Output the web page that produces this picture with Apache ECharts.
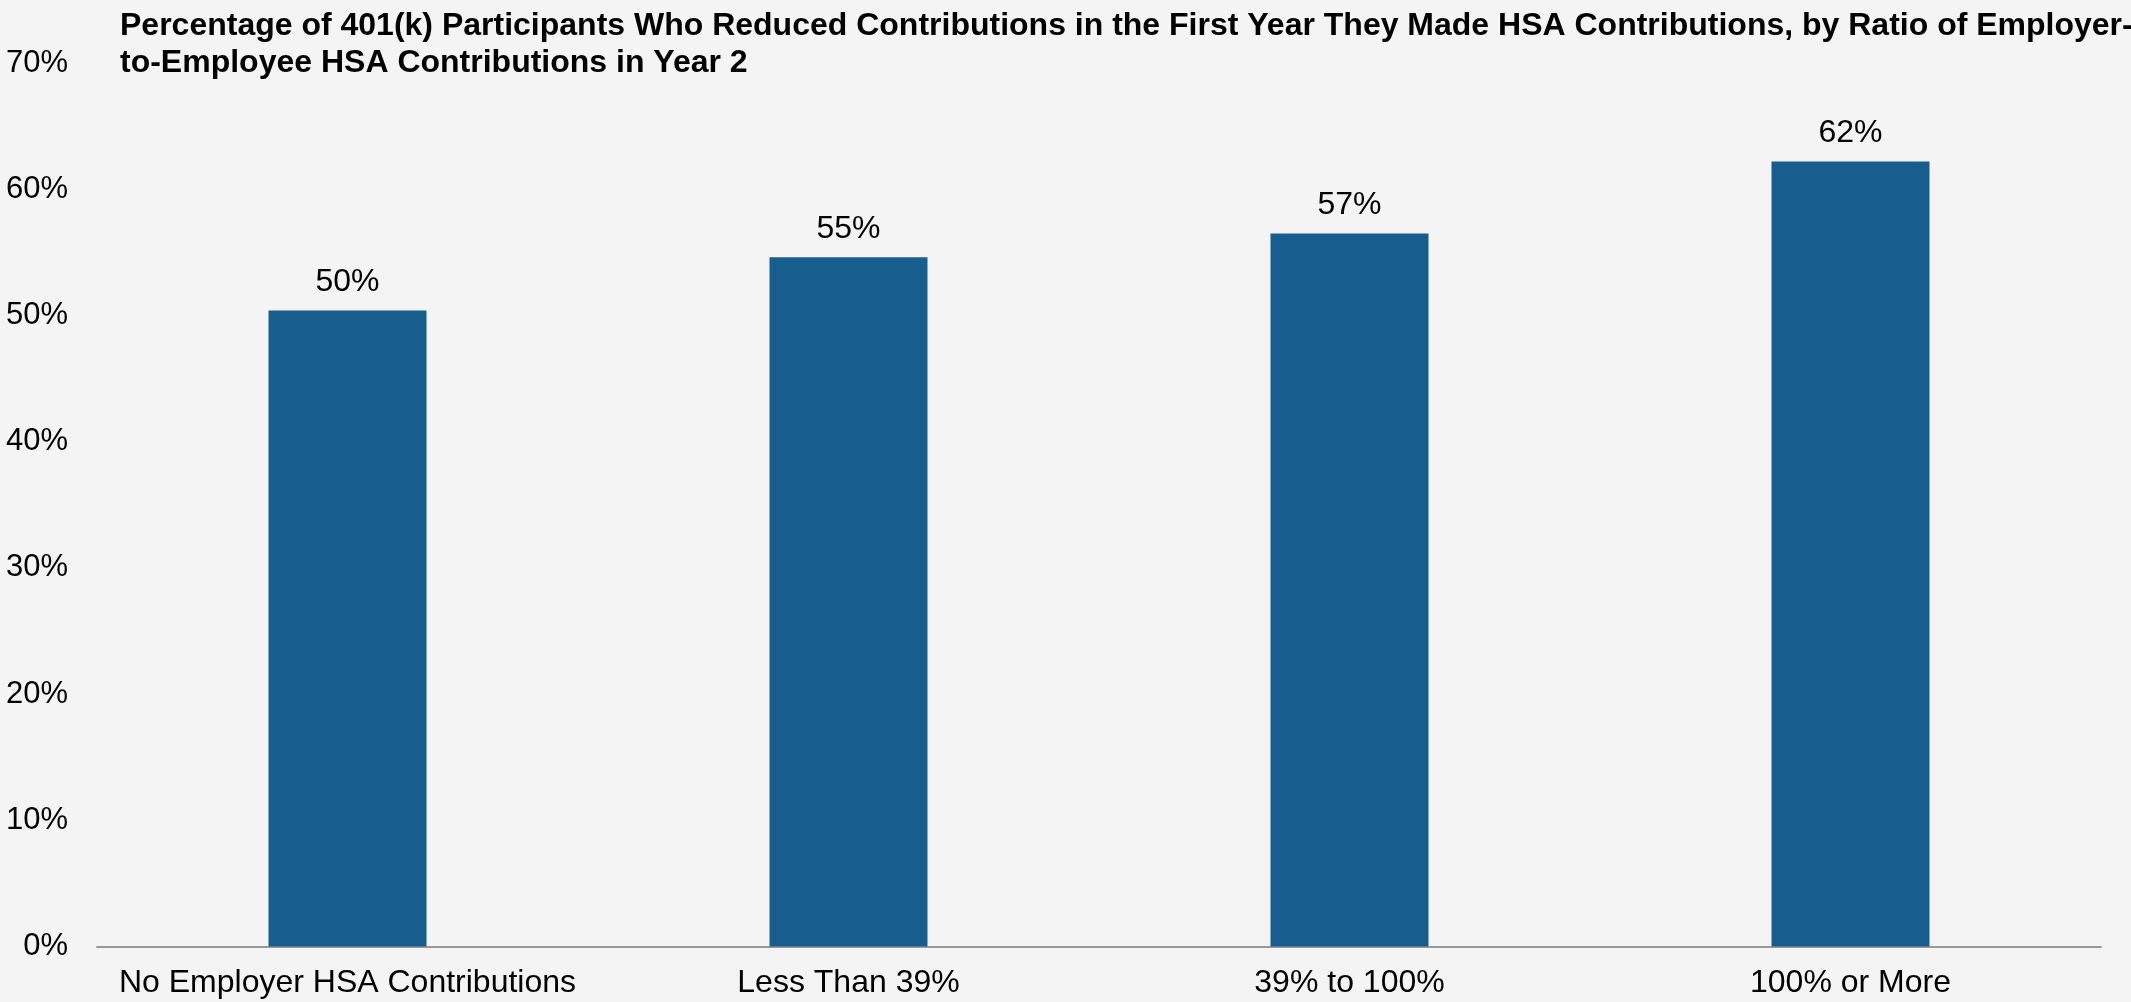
<!DOCTYPE html>
<html>
<head>
<meta charset="utf-8">
<script src="https://cdn.jsdelivr.net/npm/echarts@6/dist/echarts.min.js"></script>
<style>
html,body{margin:0;padding:0;background:#f4f4f4;}
#chart{width:2131px;height:1002px;}
</style>
</head>
<body>
<div id="chart"></div>
<script>
const titleText = "Percentage of 401(k) Participants Who Reduced Contributions in the First Year They Made HSA Contributions, by Ratio of Employer-\nto-Employee HSA Contributions in Year 2";
const categories = ["No Employer HSA Contributions", "Less Than 39%", "39% to 100%", "100% or More"];
const values = [50.4, 54.6, 56.5, 62.2];
const yTicks = [0, 10, 20, 30, 40, 50, 60, 70];

const chart = echarts.init(document.getElementById('chart'));
chart.setOption({
  backgroundColor: '#f4f4f4',
  animation: false,
  title: {
    text: titleText,
    left: 115, top: 3,
    textStyle: { fontFamily: 'Liberation Sans', fontWeight: 'bold', fontSize: 32, lineHeight: 37, color: '#000' }
  },
  grid: { left: 97, right: 30, top: 63, bottom: 55.5, containLabel: false },
  xAxis: {
    type: 'category',
    data: categories,
    axisLine: { show: true, lineStyle: { color: '#999', width: 2 } },
    axisTick: { show: false },
    axisLabel: { interval: 0, fontFamily: 'Liberation Sans', fontSize: 32, color: '#000', margin: 21 }
  },
  yAxis: {
    type: 'value',
    min: yTicks[0], max: yTicks[yTicks.length - 1], interval: 10,
    splitLine: { show: false },
    axisLine: { show: false },
    axisTick: { show: false },
    axisLabel: { fontFamily: 'Liberation Sans', fontSize: 31, color: '#000', margin: 29, formatter: v => v + '%' }
  },
  series: [{
    type: 'bar',
    data: values,
    barWidth: 158,
    itemStyle: { color: '#175e8e' },
    label: {
      show: true, position: 'top', distance: 12,
      fontFamily: 'Liberation Sans', fontSize: 32, color: '#000',
      formatter: p => Math.round(p.value) + '%'
    }
  }]
});
</script>
</body>
</html>
